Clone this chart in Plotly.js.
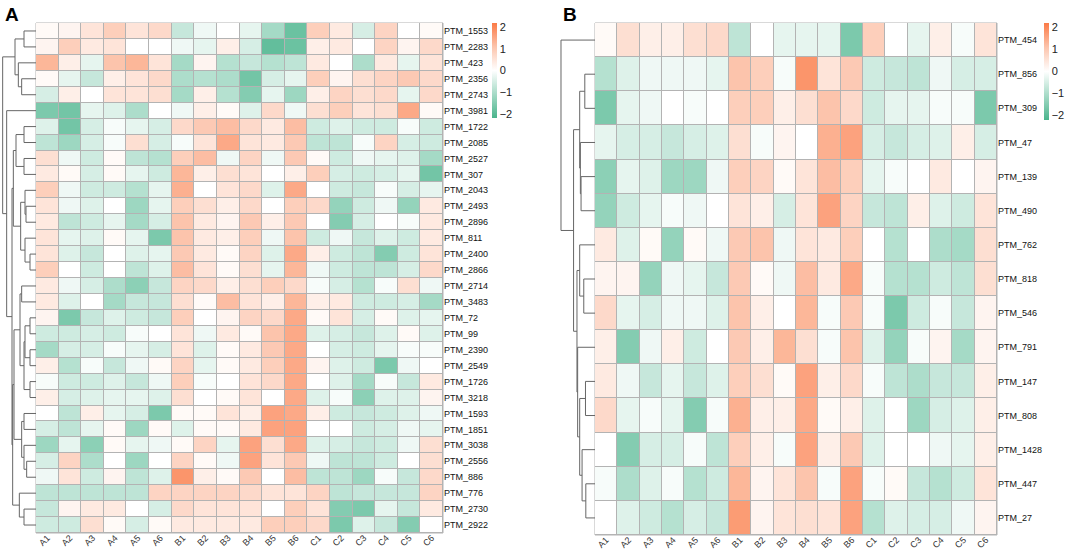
<!DOCTYPE html>
<html>
<head>
<meta charset="utf-8">
<script src="https://cdn.plot.ly/plotly-3.0.1.min.js"></script>
<style>html,body{margin:0;padding:0;background:#fff;}#chart{width:1065px;height:553px;}</style>
</head>
<body>
<div id="chart"></div>
<script>
// ---------- DATA ----------
const cols = ['A1','A2','A3','A4','A5','A6','B1','B2','B3','B4','B5','B6','C1','C2','C3','C4','C5','C6'];

const rowsA = ['PTM_1553','PTM_2283','PTM_423','PTM_2356','PTM_2743','PTM_3981','PTM_1722','PTM_2085','PTM_2527','PTM_307',
  'PTM_2043','PTM_2493','PTM_2896','PTM_811','PTM_2400','PTM_2866','PTM_2714','PTM_3483','PTM_72','PTM_99',
  'PTM_2390','PTM_2549','PTM_1726','PTM_3218','PTM_1593','PTM_1851','PTM_3038','PTM_2556','PTM_886','PTM_776',
  'PTM_2730','PTM_2922'];

const valsA = [
  [0.1,0.2,0.5,0.9,0.5,0.7,-0.7,-0.2,0.0,-0.3,-1.1,-1.8,0.9,0.4,-0.5,0.8,0.0,0.1],
  [0.2,0.9,0.4,0.5,0.0,0.0,-0.2,-0.3,0.3,-0.5,-1.9,-1.8,0.3,0.4,0.0,0.8,0.2,0.7],
  [1.3,0.3,-0.3,1.1,1.3,0.5,-1.1,0.2,-0.9,-0.7,-0.9,-0.8,0.4,0.0,-1.0,0.4,-0.3,0.5],
  [0.1,-0.3,-0.7,0.3,0.5,0.7,-1.0,-0.9,-1.0,-1.7,-0.5,-0.3,0.9,0.2,0.6,0.8,1.0,0.7],
  [-0.5,0.3,0.0,0.5,0.5,0.6,-1.1,0.3,-0.9,-1.5,-0.3,-1.2,0.3,0.8,0.6,0.7,-0.3,0.7],
  [-1.6,-1.7,-0.3,-0.4,-1.0,0.0,-0.2,0.3,0.1,-0.4,0.7,-0.2,0.6,0.9,0.5,0.6,1.5,0.1],
  [-0.4,-1.7,-0.5,-0.1,-0.3,-0.5,0.7,1.0,1.2,0.7,0.4,1.2,-0.6,-0.4,-0.6,-0.6,-0.1,-0.6],
  [-0.8,-1.2,-0.5,-0.1,0.6,-0.5,-0.1,0.5,1.5,0.5,0.4,1.0,-0.8,-0.8,-0.1,0.8,-0.5,-0.6],
  [0.6,-0.2,-0.6,0.1,-0.8,-0.9,0.9,1.2,-0.2,0.8,-0.2,1.0,0.1,-0.6,-0.2,-0.3,-0.4,-1.1],
  [0.4,0.1,-0.5,0.1,-0.3,-0.6,1.3,0.3,0.6,0.5,0.0,0.3,0.9,-0.5,-0.6,-0.5,-0.3,-1.7],
  [0.9,-0.2,-0.6,-0.6,-0.9,-0.3,1.4,0.0,0.5,0.7,-0.4,1.5,0.0,-0.6,-0.7,-0.1,-0.5,-0.3],
  [0.5,-0.2,-0.4,0.0,-1.2,-0.3,0.9,0.6,0.3,0.7,0.0,0.9,0.7,-1.3,-0.6,-0.2,-1.3,0.4],
  [0.4,-0.8,-0.6,-0.3,-1.1,-0.5,1.1,0.4,0.2,1.0,0.3,1.0,0.0,-1.5,-0.5,0.0,-0.1,0.4],
  [0.5,-0.3,-0.4,0.1,-0.3,-1.6,1.1,0.4,0.3,0.9,-0.2,1.1,-0.6,-0.2,-0.7,-0.4,-0.6,0.4],
  [0.5,-0.4,-0.7,0.0,-0.4,-0.3,1.0,0.4,0.1,0.8,-0.4,1.5,0.3,-0.6,-0.8,-1.5,-0.6,0.5],
  [0.9,0.0,-0.6,0.0,-0.8,-0.4,1.2,0.5,0.1,0.6,-0.3,1.3,-0.2,-0.6,-0.8,-0.8,-0.5,0.7],
  [0.4,-0.2,-0.5,-1.0,-1.4,-0.7,0.8,0.7,0.3,0.6,0.9,0.7,-0.1,-0.5,-0.9,-0.1,0.6,-0.2],
  [0.4,-0.4,0.0,-1.1,-0.7,-0.7,0.6,0.1,1.2,0.5,0.3,1.3,0.3,0.4,-0.6,-0.6,-0.5,-1.1],
  [0.2,-1.6,-0.7,-0.4,-0.6,-0.7,0.9,0.0,0.2,0.8,0.7,1.5,0.1,0.5,-0.5,0.1,-0.4,-0.3],
  [-0.6,-0.6,-0.5,-0.6,-0.1,0.0,0.5,-0.2,0.4,0.1,1.1,1.5,-0.4,-0.5,-0.7,-0.4,0.1,-0.4],
  [-1.1,-0.5,-0.5,-0.1,-0.3,-0.5,0.5,-0.4,0.1,0.4,1.0,1.5,0.0,-0.5,-0.6,-0.3,-0.1,-0.1],
  [0.3,-0.9,-0.1,-0.7,-0.2,0.1,0.8,-0.3,0.1,0.4,0.9,1.5,0.2,-0.4,-0.6,-1.6,-0.2,0.0],
  [-0.1,-0.6,-0.6,-0.4,-0.7,-0.2,0.9,-0.1,0.0,0.5,0.7,1.5,0.0,-0.4,-1.1,-0.1,-0.7,0.4],
  [0.3,-0.5,-0.4,-0.3,-0.3,-0.4,0.6,0.0,0.1,0.5,0.0,1.5,-0.4,-0.1,-1.4,-0.4,-0.4,0.2],
  [0.0,-0.8,0.3,-0.3,-0.5,-1.6,0.1,0.1,0.5,0.3,1.6,1.5,0.3,-0.6,-0.7,-0.6,-0.4,-0.2],
  [-0.5,-0.8,-0.3,0.1,-1.2,0.1,-0.4,0.1,0.1,0.4,1.6,1.6,0.0,0.0,-0.6,-0.5,-0.2,-0.3],
  [-1.2,-0.3,-1.4,0.1,-0.3,-0.2,0.1,0.8,-0.3,1.6,0.6,1.5,-0.4,-0.5,-0.7,-0.6,-0.2,0.6],
  [-0.5,0.8,-1.0,0.0,-1.2,0.0,0.8,0.1,-0.2,1.6,0.5,1.0,-0.2,-0.8,-0.8,-0.6,0.0,0.6],
  [-0.2,0.5,-0.6,0.2,-0.8,-0.4,1.8,0.3,0.1,1.0,0.0,1.2,-0.8,-0.8,-1.2,-0.1,-0.7,0.7],
  [-0.8,-0.8,-0.8,-0.8,-0.8,0.8,0.8,0.8,0.8,0.7,0.5,0.5,0.8,-0.8,-0.7,-0.7,-0.7,0.8],
  [-0.7,0.2,0.4,0.4,0.0,-0.5,0.7,0.5,0.5,0.5,0.0,0.9,0.5,-1.5,-1.6,-0.3,-0.7,0.4],
  [-0.6,-0.6,0.6,0.1,-0.5,0.1,0.4,0.4,0.4,0.4,0.9,0.9,0.7,-1.6,-0.4,-0.7,-1.5,0.0]
];

const rowsB = ['PTM_454','PTM_856','PTM_309','PTM_47','PTM_139','PTM_490','PTM_762','PTM_818','PTM_546','PTM_791',
  'PTM_147','PTM_808','PTM_1428','PTM_447','PTM_27'];

const valsB = [
  [0.1,0.6,0.3,0.3,0.6,0.7,-0.8,0.0,-0.3,-0.3,-0.3,-1.6,0.9,0.0,-0.3,0.3,-0.1,0.5],
  [-0.9,-0.4,-0.2,-0.2,-0.2,-0.3,1.1,0.9,-0.1,1.8,0.5,1.0,-0.6,-0.7,-0.8,-0.2,-0.5,-0.5],
  [-1.6,-0.3,-0.2,0.0,-0.1,0.0,0.9,0.9,0.3,0.6,1.1,0.7,-0.6,-0.3,-0.3,-0.1,-0.1,-1.6],
  [-0.3,-0.5,-0.5,-0.7,-0.5,-0.4,0.6,-0.1,0.2,0.0,1.4,1.6,-0.5,-0.7,-0.5,-0.4,0.3,-0.5],
  [-1.4,-0.3,-0.4,-1.2,-1.2,-0.2,0.9,0.8,0.1,0.5,1.2,0.9,-0.3,-0.1,0.0,0.4,0.0,0.2],
  [-1.3,-0.6,-0.3,-0.1,-0.2,0.0,0.5,0.3,-0.5,0.5,1.6,0.8,-0.7,-0.8,0.3,-0.4,-0.6,0.5],
  [0.4,-0.4,0.1,-1.3,0.1,-0.2,1.0,1.1,-0.2,0.5,0.4,0.9,0.0,-0.9,0.0,-1.0,-1.1,0.6],
  [0.2,0.2,-1.3,-0.2,-0.3,-0.7,1.0,0.1,-0.2,1.2,0.4,1.5,-0.1,-0.9,-0.9,-0.6,-0.8,0.6],
  [0.7,-0.3,-0.5,-0.2,-0.2,-0.4,1.1,0.3,0.0,1.3,-0.1,1.0,-0.1,-1.6,-0.6,-0.1,-0.7,0.2],
  [0.3,-1.5,-0.2,0.3,-0.6,0.0,1.0,0.3,1.3,0.6,-0.1,1.1,-0.4,-1.3,-0.1,0.2,-1.1,0.2],
  [0.4,-0.2,-0.7,-0.3,-0.7,-0.4,0.9,0.6,0.1,1.6,0.3,0.7,-0.1,-0.8,-1.0,-0.7,-0.7,0.3],
  [0.7,-0.3,-0.1,-0.3,-1.5,-0.1,1.4,0.3,0.3,1.5,0.1,0.3,-0.4,0.0,-1.2,-0.5,-0.4,0.3],
  [0.0,-1.5,-0.5,-0.5,-0.1,-0.8,0.9,0.3,-0.1,1.6,0.3,1.0,-0.4,0.0,0.0,-0.2,-0.3,0.3],
  [-0.1,-1.0,-0.4,-0.1,-0.9,-0.6,1.3,0.2,0.5,1.1,-0.1,1.6,-0.1,0.1,-0.7,-0.9,-0.6,0.5],
  [0.0,-0.4,-0.6,-0.9,-0.5,-0.7,1.7,0.2,0.5,0.6,0.5,1.6,-0.9,-0.4,-0.5,-0.5,-0.2,0.2]
];

// Row dendrogram linkages (scipy style: leaves 0..n-1, merge k -> node n+k)
const linkA_left   = [0, 3, 2, 32, 6, 8, 36, 11, 10, 14, 13, 40, 38, 16, 18, 20, 46, 22, 48, 45, 24, 27, 26, 52, 51, 30, 29, 56, 44, 5, 35];
const linkA_right  = [1, 4, 33, 34, 7, 9, 37, 12, 39, 15, 41, 42, 43, 17, 19, 21, 47, 23, 49, 50, 25, 28, 53, 54, 55, 31, 57, 58, 59, 60, 61];
const linkA_height = [36, 43, 53, 63, 36, 36, 60, 30, 33, 18, 33, 46, 68, 43, 18, 18, 33, 18, 36, 48, 36, 28, 36, 43, 66, 36, 50, 70, 72, 88, 100];

const linkB_left   = [1, 4, 3, 15, 7, 6, 10, 13, 12, 21, 9, 20, 18, 0];
const linkB_right  = [2, 5, 16, 17, 8, 19, 11, 14, 22, 23, 24, 25, 26, 27];
const linkB_height = [30, 41, 43, 45, 33, 45, 28, 27, 38, 45, 51, 53, 63, 100];

const ticksCB = [-2, -1, 0, 1, 2];

// ---------- HELPERS ----------
const W = 1065, H = 553;
const px = x => x / W;
const py = y => 1 - y / H;
const FONT = 'Liberation Sans, Arial, sans-serif';

function dendroLines(n, L, R, Hh) {
  const pos = [], hgt = [];
  for (let i = 0; i < n; i++) { pos.push(i); hgt.push(0); }
  const xs = [], ys = [];
  for (let k = 0; k < L.length; k++) {
    const a = L[k], b = R[k], h = Hh[k];
    const ya = pos[a], yb = pos[b];
    xs.push(hgt[a], h, h, hgt[b], null);
    ys.push(ya, ya, yb, yb, null);
    pos.push((ya + yb) / 2); hgt.push(h);
  }
  return {xs, ys};
}

const cscale = [[0, 'rgb(74,180,140)'], [0.25, 'rgb(165,218,198)'], [0.5, 'rgb(255,255,255)'], [0.75, 'rgb(252,196,172)'], [1, 'rgb(251,122,70)']];

function hm(z, rows, xa, ya, cbx, cblen) {
  return {
    type: 'heatmap', z: z, x: cols, y: rows.map((_, i) => i),
    xaxis: xa, yaxis: ya, colorscale: cscale, zmin: -2.2, zmax: 2.2,
    xgap: 1, ygap: 1, hoverinfo: 'skip',
    colorbar: {
      x: px(cbx), xanchor: 'left', y: py(23), yanchor: 'top',
      lenmode: 'pixels', len: cblen, thicknessmode: 'pixels', thickness: 5,
      xpad: 0, ypad: 0, outlinewidth: 0, ticks: '', tickvals: ticksCB,
      tickfont: {family: FONT, size: 11, color: '#222'}
    }
  };
}

const dA = dendroLines(rowsA.length, linkA_left, linkA_right, linkA_height);
const dB = dendroLines(rowsB.length, linkB_left, linkB_right, linkB_height);

const traces = [
  hm(valsA, rowsA, 'x', 'y', 492, 95),
  hm(valsB, rowsB, 'x2', 'y2', 1044, 97),
  {type: 'scatter', mode: 'lines', x: dA.xs, y: dA.ys, xaxis: 'x3', yaxis: 'y3',
   line: {color: '#666', width: 1}, hoverinfo: 'skip', showlegend: false, connectgaps: false},
  {type: 'scatter', mode: 'lines', x: dB.xs, y: dB.ys, xaxis: 'x4', yaxis: 'y4',
   line: {color: '#666', width: 1}, hoverinfo: 'skip', showlegend: false, connectgaps: false}
];

const xTick = {family: FONT, size: 9, color: '#333'};
const yTick = {family: FONT, size: 9, color: '#111'};

function heatX(dom, anchor) {
  return {domain: dom, anchor: anchor, showgrid: false, zeroline: false, ticks: '', tickangle: -45,
          ticklabelstandoff: -3, tickfont: xTick, showline: false, fixedrange: true};
}
function heatY(dom, anchor, rows) {
  return {domain: dom, anchor: anchor, side: 'right', range: [rows.length - 0.5, -0.5],
          tickmode: 'array', tickvals: rows.map((_, i) => i), ticktext: rows,
          showgrid: false, zeroline: false, ticks: '', tickfont: yTick, fixedrange: true};
}

const layout = {
  width: W, height: H,
  margin: {l: 0, r: 0, t: 0, b: 0, pad: 0},
  paper_bgcolor: '#fff', plot_bgcolor: 'rgba(0,0,0,0)',
  showlegend: false,
  font: {family: FONT},
  xaxis: heatX([px(36), px(443)], 'y'),
  yaxis: heatY([py(533), py(23)], 'x', rowsA),
  xaxis2: heatX([px(595), px(997)], 'y2'),
  yaxis2: heatY([py(535), py(23)], 'x2', rowsB),
  xaxis3: {domain: [0, px(36)], anchor: 'y3', range: [108, 0], visible: false, fixedrange: true},
  yaxis3: {domain: [py(533), py(23)], anchor: 'x3', range: [rowsA.length - 0.5, -0.5], visible: false, fixedrange: true},
  xaxis4: {domain: [px(555), px(595)], anchor: 'y4', range: [117.6, 0], visible: false, fixedrange: true},
  yaxis4: {domain: [py(535), py(23)], anchor: 'x4', range: [rowsB.length - 0.5, -0.5], visible: false, fixedrange: true},
  shapes: [
    {type: 'rect', xref: 'x domain', yref: 'y domain', x0: 0, x1: 1, y0: 0, y1: 1,
     fillcolor: '#b3b3b3', line: {color: '#b3b3b3', width: 1}, layer: 'below'},
    {type: 'rect', xref: 'x2 domain', yref: 'y2 domain', x0: 0, x1: 1, y0: 0, y1: 1,
     fillcolor: '#b3b3b3', line: {color: '#b3b3b3', width: 1}, layer: 'below'}
  ],
  annotations: [
    {text: '<b>A</b>', xref: 'paper', yref: 'paper', x: px(3), y: py(2), xanchor: 'left', yanchor: 'top',
     showarrow: false, font: {family: FONT, size: 19, color: '#000'}},
    {text: '<b>B</b>', xref: 'paper', yref: 'paper', x: px(561), y: py(2), xanchor: 'left', yanchor: 'top',
     showarrow: false, font: {family: FONT, size: 19, color: '#000'}}
  ]
};

Plotly.newPlot('chart', traces, layout, {displayModeBar: false, staticPlot: true});
</script>
</body>
</html>
